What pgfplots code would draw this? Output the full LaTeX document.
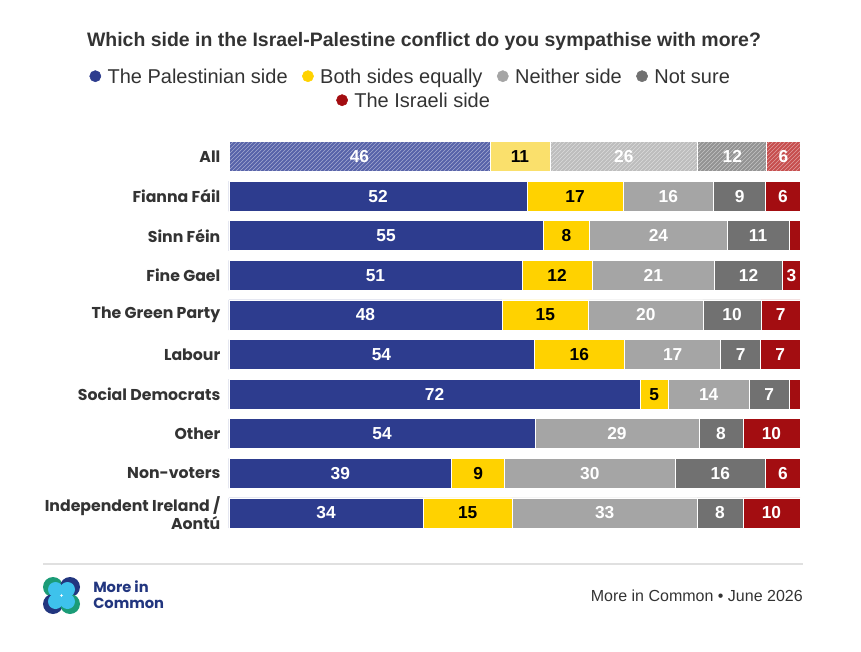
\documentclass[border=0pt]{standalone}
\usepackage{pgfplots}
\pgfplotsset{compat=1.18}
\usepackage{pgfplotstable}
\usepackage{fontspec}
\setmainfont{Liberation Sans}
\newfontfamily\poppins{Poppins}
\usetikzlibrary{patterns}
\definecolor{pblue}{HTML}{2D3C8E}
\definecolor{pyellow}{HTML}{FFD200}
\definecolor{plgrey}{HTML}{A5A5A5}
\definecolor{pdgrey}{HTML}{717171}
\definecolor{pred}{HTML}{A30D11}
\definecolor{hblue}{HTML}{5763A9}
\definecolor{hyellow}{HTML}{FAE06C}
\definecolor{hlgrey}{HTML}{BDBDBD}
\definecolor{hdgrey}{HTML}{939393}
\definecolor{hred}{HTML}{C64E4E}
\definecolor{tdark}{HTML}{333333}
\definecolor{logoblue}{HTML}{22367F}
\definecolor{logogreen}{HTML}{1B9C77}
\definecolor{logocyan}{HTML}{3EC2EC}

\pgfplotstableread{
y pal both neith ns isr
8 52.2 16.8 15.9 9.1 6.0
7 55.0 8.2 24.0 10.9 1.9
6 51.3 12.3 21.4 12.0 3.0
5 47.8 15.2 20.0 10.2 6.8
4 53.4 15.9 16.8 7.0 6.9
3 72.0 4.9 14.2 7.0 1.9
2 53.6 0 28.7 7.7 10.0
1 39.0 9.3 29.8 15.9 6.0
0 34.0 15.6 32.4 8.0 10.0
}\rowsdata
\pgfplotstableread{
y pal both neith ns isr
9 45.7 10.5 25.9 12.1 5.8
}\alldata
\pgfplotstableread{
x y lbl
22.85 9 46
69.15 9 26
88.15 9 12
97.1 9 6
26.1 8 52
76.95 8 16
89.45 8 9
97.0 8 6
27.5 7 55
75.2 7 24
92.65 7 11
25.65 6 51
74.3 6 21
91.0 6 12
98.5 6 3
23.9 5 48
73.0 5 20
88.1 5 10
96.6 5 7
26.7 4 54
77.7 4 17
89.6 4 7
96.55 4 7
36.0 3 72
84.0 3 14
94.6 3 7
26.8 2 54
67.95 2 29
86.15 2 8
95.0 2 10
19.5 1 39
63.2 1 30
86.05 1 16
97.0 1 6
17.0 0 34
65.8 0 33
86.0 0 8
95.0 0 10
}\whitelabels
\pgfplotstableread{
x y lbl
50.95 9 11
60.6 8 17
59.1 7 8
57.45 6 12
55.4 5 15
61.35 4 16
74.45 3 5
43.65 1 9
41.8 0 15
}\blacklabels

\pgfplotsset{
  base/.style={scale only axis, width=428.25pt, height=297pt,
    xmin=0, xmax=100, ymin=-0.5, ymax=9.5,
    at={(171.75pt,88.65pt)}, anchor=south west, clip=false},
  seg/.style={fill=#1, draw=white, line width=0.6pt, forget plot},
  hseg/.style={fill=#1, draw=white, line width=0.6pt, forget plot,
    postaction={pattern=north east lines, pattern color=#1!55!white}},
}

\begin{document}
\begin{tikzpicture}[x=0.75pt,y=0.75pt]
\path (0,0) rectangle (861,651);

% title
\node[font=\bfseries\fontsize{14.6}{17}\selectfont, text=tdark] at (424,610)
  {Which side in the Israel-Palestine conflict do you sympathise with more?};

% main bars
\begin{axis}[base,
  xbar stacked, bar width=0.76,
  axis line style={draw=none}, tick style={draw=none},
  xtick=\empty,
  ytick={0,1,2,3,4,5,6,7,8,9},
  yticklabels={{Independent Ireland /\\Aontú}, Non-voters, Other, Social Democrats, Labour, The Green Party, Fine Gael, Sinn Féin, Fianna Fáil, All},
  yticklabel style={font=\poppins\bfseries\fontsize{11.8}{12}\selectfont, text=tdark, align=right, xshift=-3pt},
  legend style={at={(0.319,1.1495)}, anchor=center, draw=none, fill=none,
    legend columns=4, font=\fontsize{15}{17}\selectfont, text=tdark,
    /tikz/every odd column/.append style={column sep=3pt},
    /tikz/every even column/.append style={column sep=9pt}},
  legend cell align=left,
]
\addplot[seg=pblue] table[x=pal, y=y] {\rowsdata};
\addplot[seg=pyellow] table[x=both, y=y] {\rowsdata};
\addplot[seg=plgrey] table[x=neith, y=y] {\rowsdata};
\addplot[seg=pdgrey] table[x=ns, y=y] {\rowsdata};
\addplot[seg=pred] table[x=isr, y=y] {\rowsdata};
\draw[white, line width=1.3pt, dash pattern=on 3pt off 2.5pt] (axis cs:50,-0.38) -- (axis cs:50,8.38);
\addlegendimage{only marks, mark=*, mark size=4.2pt, color=pblue}
\addlegendentry{The Palestinian side}
\addlegendimage{only marks, mark=*, mark size=4.2pt, color=pyellow}
\addlegendentry{Both sides equally}
\addlegendimage{only marks, mark=*, mark size=4.2pt, color=plgrey}
\addlegendentry{Neither side}
\addlegendimage{only marks, mark=*, mark size=4.2pt, color=pdgrey}
\addlegendentry{Not sure}
\end{axis}

% "All" row, hatched
\begin{axis}[base, hide axis, xbar stacked, bar width=0.76,
  legend style={at={(0.325,1.0889)}, anchor=center, draw=none, fill=none,
    font=\fontsize{15}{17}\selectfont, text=tdark,
    /tikz/every odd column/.append style={column sep=3pt}},
]
\addplot[hseg=hblue] table[x=pal, y=y] {\alldata};
\addplot[seg=hyellow] table[x=both, y=y] {\alldata};
\addplot[hseg=hlgrey] table[x=neith, y=y] {\alldata};
\addplot[hseg=hdgrey] table[x=ns, y=y] {\alldata};
\addplot[hseg=hred] table[x=isr, y=y] {\alldata};
\addlegendimage{only marks, mark=*, mark size=4.2pt, color=pred}
\addlegendentry{The Israeli side}
\end{axis}

% value labels
\begin{axis}[base, hide axis]
\addplot[draw=none, mark=none, nodes near coords, point meta=explicit symbolic,
  nodes near coords style={anchor=center, text=white, font=\bfseries\fontsize{13}{14}\selectfont}]
  table[x=x, y=y, meta=lbl] {\whitelabels};
\addplot[draw=none, mark=none, nodes near coords, point meta=explicit symbolic,
  nodes near coords style={anchor=center, text=black, font=\bfseries\fontsize{13}{14}\selectfont}]
  table[x=x, y=y, meta=lbl] {\blacklabels};
\end{axis}

% footer
\draw[black!12, line width=0.8pt] (43,87) -- (803,87);
\node[anchor=east, inner sep=0pt, font=\fontsize{12}{14}\selectfont, text=tdark] at (803,55) {More in Common • June 2026};
\fill[logogreen] (53,64) circle (10);
\fill[logoblue] (70,64) circle (10);
\fill[logoblue] (53,47) circle (10);
\fill[logogreen] (70,47) circle (10);
\fill[logocyan] (55.5,61.5) circle (7.5);
\fill[logocyan] (67.5,61.5) circle (7.5);
\fill[logocyan] (55.5,49.5) circle (7.5);
\fill[logocyan] (67.5,49.5) circle (7.5);
\node[anchor=west, inner sep=0pt, font=\poppins\fontsize{11}{12}\selectfont\bfseries, text=logoblue, align=left] at (93,56) {More in\\Common};
\end{tikzpicture}
\end{document}
